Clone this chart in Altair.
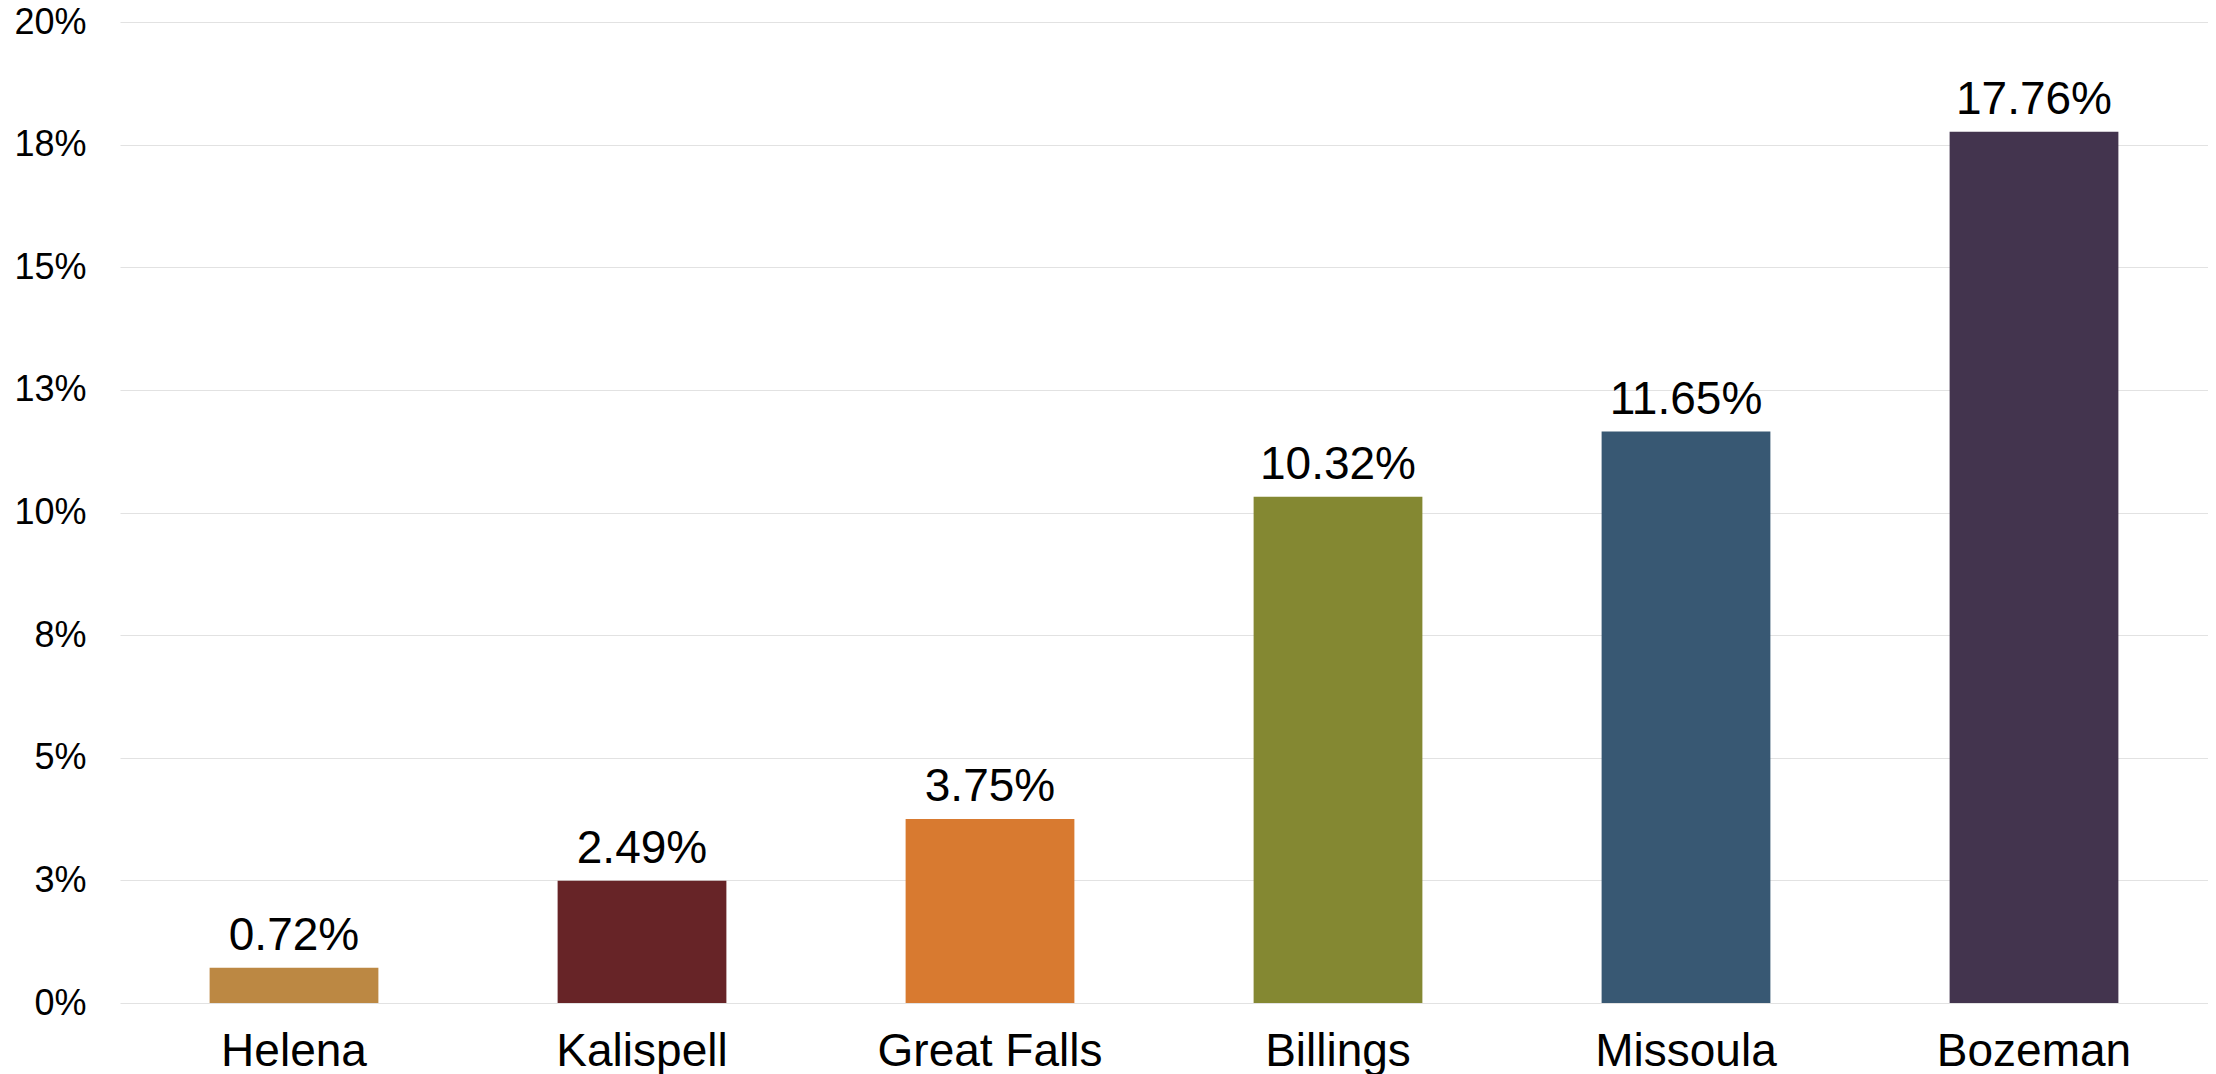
import altair as alt
import pandas as pd

cities = ["Helena", "Kalispell", "Great Falls", "Billings", "Missoula", "Bozeman"]
values = [0.72, 2.49, 3.75, 10.32, 11.65, 17.76]
colors = ["#BC8843", "#672427", "#D87A30", "#848832", "#385873", "#43344E"]
y_ticks = [0, 2.5, 5, 7.5, 10, 12.5, 15, 17.5, 20]

df = pd.DataFrame({"city": cities, "value": values})
df["label"] = [f"{v:.2f}%" for v in values]

FONT = "Liberation Sans"

x = alt.X(
    "city:N",
    sort=cities,
    scale=alt.Scale(paddingInner=0.515, paddingOuter=0.2575),
    axis=alt.Axis(
        title=None, labelAngle=0, labelFontSize=46, labelFont=FONT,
        labelColor="#000000", ticks=False, tickSize=0, domain=False,
        labelPadding=26, grid=False, labelLimit=0,
    ),
)
y = alt.Y(
    "value:Q",
    scale=alt.Scale(domain=[0, 20], nice=False),
    axis=alt.Axis(
        title=None, values=y_ticks, labelExpr="round(datum.value) + '%'",
        labelFontSize=36, labelFont=FONT, labelColor="#000000",
        ticks=False, tickSize=0, domain=False, labelPadding=34,
        grid=True, gridColor="#e2e2e2", gridWidth=1.2, labelLimit=0,
    ),
)

bars = alt.Chart(df).mark_bar().encode(
    x=x,
    y=y,
    color=alt.Color("city:N", sort=cities,
                    scale=alt.Scale(domain=cities, range=colors), legend=None),
)

text = alt.Chart(df).mark_text(
    baseline="alphabetic", dy=-18, fontSize=46, font=FONT, color="#000000"
).encode(
    x=alt.X("city:N", sort=cities),
    y="value:Q",
    text="label:N",
)

chart = (bars + text).properties(
    width=2088,
    height=981,
    autosize=alt.AutoSizeParams(type="none"),
    padding={"left": 112, "top": 14, "right": 0, "bottom": 71},
).configure_view(stroke=None)

chart.save("out.html", embed_options={"renderer": "svg", "actions": False})
